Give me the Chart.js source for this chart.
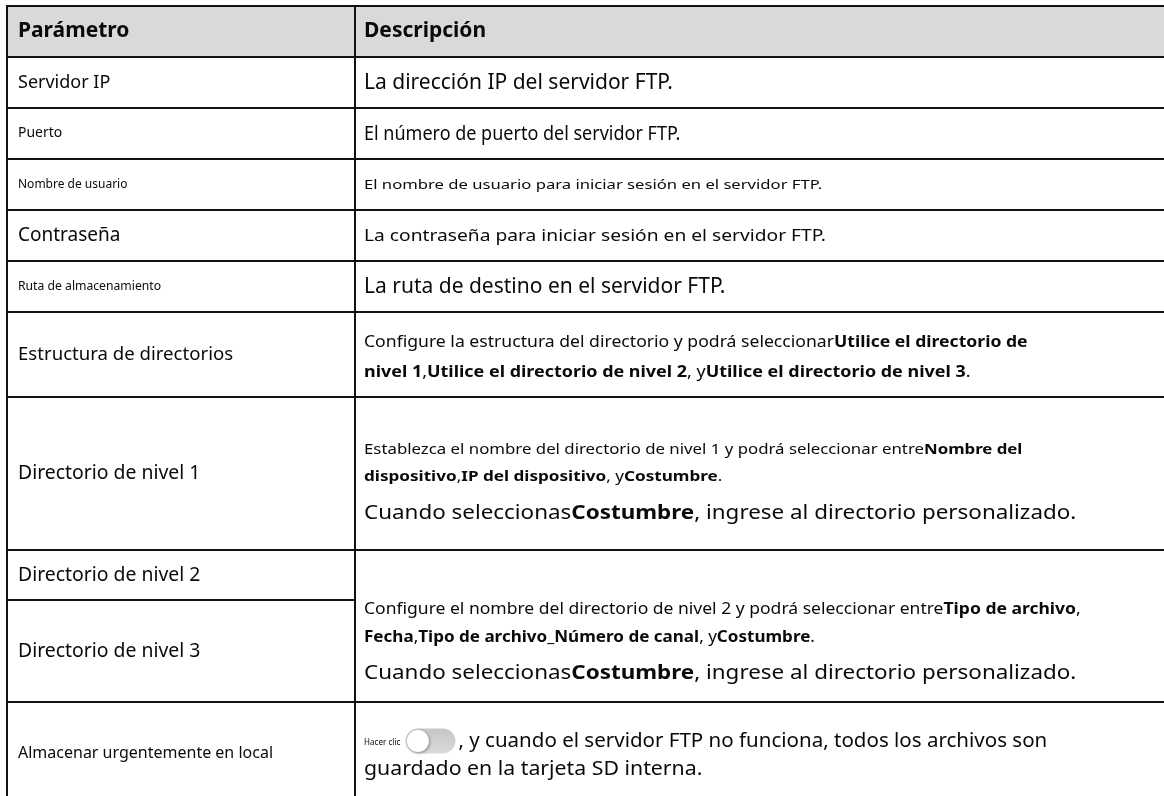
<!DOCTYPE html>
<html><head><meta charset="utf-8">
<script src="https://cdn.jsdelivr.net/npm/chart.js@4.4.0/dist/chart.umd.min.js"></script>
<style>html,body{margin:0;padding:0;background:#fff;overflow:hidden}#wrap{width:1164px;height:796px}</style>
</head><body><div id="wrap"><canvas id="c" width="1164" height="796"></canvas></div>
<script>
// ---- table content (text data) ----
const headerLabels = ["Parámetro", "Descripción"];
const parameters = [
  "Servidor IP", "Puerto", "Nombre de usuario", "Contraseña", "Ruta de almacenamiento",
  "Estructura de directorios", "Directorio de nivel 1", "Directorio de nivel 2",
  "Directorio de nivel 3", "Almacenar urgentemente en local"
];
const descriptions = [
  ["La dirección IP del servidor FTP."],
  ["El número de puerto del servidor FTP."],
  ["El nombre de usuario para iniciar sesión en el servidor FTP."],
  ["La contraseña para iniciar sesión en el servidor FTP."],
  ["La ruta de destino en el servidor FTP."],
  ["Configure la estructura del directorio y podrá seleccionar**Utilice el directorio de**",
   "**nivel 1**,**Utilice el directorio de nivel 2**, y**Utilice el directorio de nivel 3**."],
  ["Establezca el nombre del directorio de nivel 1 y podrá seleccionar entre**Nombre del**",
   "**dispositivo**,**IP del dispositivo**, y**Costumbre**.",
   "Cuando seleccionas**Costumbre**, ingrese al directorio personalizado."],
  ["Configure el nombre del directorio de nivel 2 y podrá seleccionar entre**Tipo de archivo**,",
   "**Fecha**,**Tipo de archivo_Número de canal**, y**Costumbre**.",
   "Cuando seleccionas**Costumbre**, ingrese al directorio personalizado."],
  ["Hacer clic|TOGGLE|, y cuando el servidor FTP no funciona, todos los archivos son",
   "guardado en la tarjeta SD interna."]
];
// which description cell each parameter row uses (Directorio 2 and 3 share one cell)
const descriptionIndex = [0, 1, 2, 3, 4, 5, 6, 7, 7, 8];

// ---- layout / styling (not data) ----
const FONT = '"Noto Sans", "Open Sans", sans-serif';
const colX = [7, 355, 1170];
const headerBand = [6, 57];
const rowBands = [[57,108],[108,159],[159,210],[210,261],[261,312],[312,397],[397,550],[550,600],[600,702],[702,820]];
const leftSizes = [18, 14, 12, 19, 12.2, 18.6, 19.4, 19.4, 19.4, 16];
// per description line: [centerY, fontSize, horizontalScale]
const descLines = [
  [[83, 21, 1]],
  [[134, 20, 0.9]],
  [[185, 13, 1.28]],
  [[236, 16, 1.2]],
  [[287, 21, 1]],
  [[342, 16, 1.1], [372, 16, 1.12]],
  [[450, 15, 1.12], [477, 15, 1.14], [513, 20, 1.12]],
  [[610, 15.5, 1.13], [638, 15.5, 1.1], [673, 20, 1.12]],
  [[742, 19, 1.08], [770, 19, 1.12]]
];

function drawRich(ctx, str, x, y, size, sx) {
  const parts = str.split('**');
  parts.forEach((p, i) => {
    if (!p) return;
    ctx.font = (i % 2 ? 'bold ' : '') + size + 'px ' + FONT;
    const w = ctx.measureText(p).width * sx;
    ctx.save(); ctx.translate(x, y); ctx.scale(sx, 1); ctx.fillText(p, 0, 0); ctx.restore();
    x += w;
  });
  return x;
}

function drawToggle(ctx, x, y) {
  const w = 50, h = 25, r = h / 2;
  ctx.save();
  const g = ctx.createLinearGradient(0, y - r, 0, y + r);
  g.addColorStop(0, '#c6c6c6'); g.addColorStop(1, '#dadada');
  ctx.fillStyle = g;
  ctx.beginPath();
  ctx.moveTo(x + r, y - r); ctx.lineTo(x + w - r, y - r);
  ctx.arc(x + w - r, y, r, -Math.PI / 2, Math.PI / 2);
  ctx.lineTo(x + r, y + r);
  ctx.arc(x + r, y, r, Math.PI / 2, Math.PI * 1.5);
  ctx.fill();
  ctx.shadowColor = 'rgba(0,0,0,0.35)'; ctx.shadowBlur = 3; ctx.shadowOffsetX = 1; ctx.shadowOffsetY = 1;
  ctx.fillStyle = '#ffffff';
  ctx.beginPath(); ctx.arc(x + r, y, r - 1.5, 0, Math.PI * 2); ctx.fill();
  ctx.restore();
}

const tablePlugin = {
  id: 'tablePlugin',
  afterDraw(chart) {
    const ctx = chart.ctx, sx = chart.scales.x, sy = chart.scales.y;
    const X = v => sx.getPixelForValue(v), Y = v => sy.getPixelForValue(v);
    ctx.save();
    // header background
    ctx.fillStyle = '#d9d9d9';
    ctx.fillRect(X(colX[0]), Y(headerBand[0]), X(colX[2]) - X(colX[0]), Y(headerBand[1]) - Y(headerBand[0]));
    // text
    ctx.fillStyle = '#0a0a0a';
    ctx.textBaseline = 'middle';
    ctx.textAlign = 'left';
    const hy = (headerBand[0] + headerBand[1]) / 2;
    drawRich(ctx, '**' + headerLabels[0] + '**', X(18), Y(hy), 21, 1);
    drawRich(ctx, '**' + headerLabels[1] + '**', X(364), Y(hy), 21, 1);
    parameters.forEach((p, i) => {
      const b = rowBands[i];
      const cy = i === 9 ? 753 : (b[0] + b[1]) / 2;
      drawRich(ctx, p, X(18), Y(cy), leftSizes[i], 1);
    });
    descriptions.forEach((lines, d) => {
      lines.forEach((ln, k) => {
        const [cy, size, scx] = descLines[d][k];
        if (ln.includes('|TOGGLE|')) {
          const [pre, post] = ln.split('|TOGGLE|');
          const x = drawRich(ctx, pre, X(364), Y(cy), 9, 0.9);
          drawToggle(ctx, x + 5, Y(cy - 1));
          drawRich(ctx, post, x + 58, Y(cy), size, scx);
        } else {
          drawRich(ctx, ln, X(364), Y(cy), size, scx);
        }
      });
    });
    // grid lines
    ctx.strokeStyle = '#111';
    ctx.lineWidth = 2;
    const hline = (y, x0, x1) => { ctx.beginPath(); ctx.moveTo(X(x0), Y(y)); ctx.lineTo(X(x1), Y(y)); ctx.stroke(); };
    const vline = (x, y0, y1) => { ctx.beginPath(); ctx.moveTo(X(x), Y(y0)); ctx.lineTo(X(x), Y(y1)); ctx.stroke(); };
    hline(headerBand[0], colX[0] - 1, colX[2]);
    hline(headerBand[1], colX[0], colX[2]);
    rowBands.forEach((b, i) => { if (i < 9) hline(b[1], colX[0], descriptionIndex[i] === descriptionIndex[i + 1] ? colX[1] : colX[2]); });
    vline(colX[0], headerBand[0], 820);
    vline(colX[1], headerBand[0], 820);
    ctx.restore();
  }
};

new Chart(document.getElementById('c'), {
  type: 'scatter',
  data: { datasets: [{ data: [] }] },
  options: {
    responsive: false, animation: false, devicePixelRatio: 1,
    layout: { padding: 0 },
    plugins: { legend: { display: false }, tooltip: { enabled: false } },
    scales: {
      x: { type: 'linear', min: 0, max: 1164, display: false },
      y: { type: 'linear', min: 0, max: 796, reverse: true, display: false }
    }
  },
  plugins: [tablePlugin]
});
</script></body></html>
